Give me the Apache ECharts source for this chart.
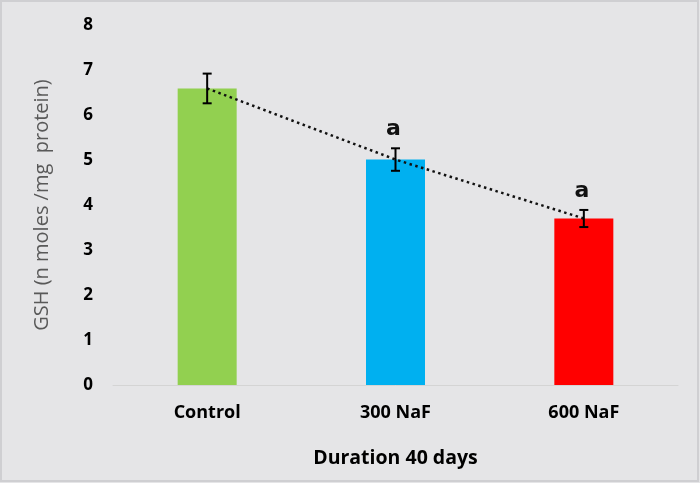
<!DOCTYPE html>
<html>
<head>
<meta charset="utf-8">
<script src="https://cdn.jsdelivr.net/npm/echarts@6/dist/echarts.min.js"></script>
<style>
  html, body { margin: 0; padding: 0; }
  #chart { width: 700px; height: 483px; background: #e5e5e7; }
</style>
</head>
<body>
<div id="chart"></div>
<script>
var categories = ['Control', '300 NaF', '600 NaF'];
var gshValues = [6.59, 5.01, 3.70];
var gshErrors = [0.33, 0.25, 0.19];
var sigLabels = ['', 'a', 'a'];
var barColors = ['#92D050', '#00B0F0', '#FF0000'];
var yTicks = [0, 1, 2, 3, 4, 5, 6, 7, 8];

var chart = echarts.init(document.getElementById('chart'));

var errData = categories.map(function (c, i) {
  return [i, gshValues[i], gshErrors[i], sigLabels[i]];
});

var option = {
  backgroundColor: 'transparent',
  animation: false,
  graphic: [{
    type: 'rect',
    shape: { x: 1, y: 1, width: 697, height: 480 },
    style: { fill: 'none', stroke: '#cfcfd2', lineWidth: 2 }
  }],
  grid: { left: 113, right: 22, top: 25, bottom: 98 },
  xAxis: {
    type: 'category',
    data: categories,
    name: 'Duration 40 days',
    nameLocation: 'middle',
    nameGap: 63,
    nameTextStyle: { fontFamily: 'Open Sans', fontWeight: 'bold', fontSize: 19.5, color: '#000' },
    axisLine: { show: true, lineStyle: { color: '#d4d4d4', width: 1 } },
    axisTick: { show: false },
    axisLabel: { margin: 19, fontFamily: 'Open Sans', fontWeight: 'bold', fontSize: 18, color: '#000' }
  },
  yAxis: {
    type: 'value',
    min: yTicks[0],
    max: yTicks[yTicks.length - 1],
    interval: 1,
    name: 'GSH (n moles /mg  protein)',
    nameLocation: 'middle',
    nameGap: 61,
    nameTextStyle: { fontFamily: 'Open Sans', fontSize: 20, color: '#595959' },
    axisLine: { show: false },
    axisTick: { show: false },
    splitLine: { show: false },
    axisLabel: { margin: 20, fontFamily: 'Open Sans', fontWeight: 'bold', fontSize: 17, color: '#000' }
  },
  series: [
    {
      type: 'bar',
      barWidth: 59,
      data: gshValues.map(function (v, i) {
        return { value: v, itemStyle: { color: barColors[i] } };
      }),
      z: 1
    },
    {
      type: 'line',
      data: gshValues,
      symbol: 'none',
      lineStyle: { color: '#111', width: 2.5, type: [2.5, 3.5], cap: 'butt' },
      z: 3
    },
    {
      type: 'custom',
      data: errData,
      z: 4,
      renderItem: function (params, api) {
        var x = api.value(0);
        var v = api.value(1);
        var e = api.value(2);
        var lab = api.value(3);
        var top = api.coord([x, v + e]);
        var bot = api.coord([x, v - e]);
        var hw = 4.5;
        var st = { stroke: '#000', lineWidth: 2 };
        var children = [
          { type: 'line', shape: { x1: top[0], y1: top[1], x2: bot[0], y2: bot[1] }, style: st },
          { type: 'line', shape: { x1: top[0] - hw, y1: top[1], x2: top[0] + hw, y2: top[1] }, style: st },
          { type: 'line', shape: { x1: bot[0] - hw, y1: bot[1], x2: bot[0] + hw, y2: bot[1] }, style: st }
        ];
        if (lab) {
          children.push({
            type: 'text',
            style: {
              x: top[0] - 2,
              y: top[1] - 8,
              text: lab,
              fill: '#111',
              font: 'bold 22px "DejaVu Sans"',
              align: 'center',
              verticalAlign: 'bottom'
            }
          });
        }
        return { type: 'group', children: children };
      }
    }
  ]
};
chart.setOption(option);
</script>
</body>
</html>
